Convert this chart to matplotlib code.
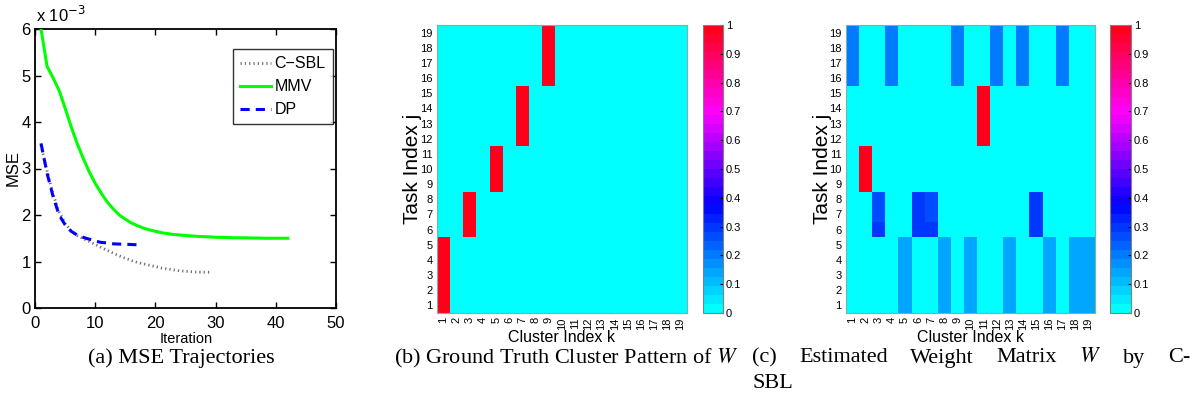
import numpy as np
import matplotlib
matplotlib.use("Agg")
import matplotlib.pyplot as plt
from matplotlib.colors import LinearSegmentedColormap

# ---------------- data ----------------
iters_csbl = list(range(1, 30))
mse_csbl = [3.50, 2.95, 2.45, 2.07, 1.82, 1.66, 1.56, 1.49, 1.43, 1.37, 1.30, 1.24,
            1.18, 1.12, 1.07, 1.02, 0.98, 0.95, 0.92, 0.89, 0.86, 0.84, 0.82, 0.80,
            0.79, 0.78, 0.77, 0.77, 0.77]
iters_mmv = list(range(1, 43))
mse_mmv = [6.00, 5.20, 4.95, 4.68, 4.30, 3.90, 3.54, 3.22, 2.93, 2.68, 2.47, 2.28,
           2.13, 2.00, 1.91, 1.83, 1.77, 1.72, 1.68, 1.65, 1.62, 1.60, 1.58, 1.57,
           1.56, 1.55, 1.54, 1.535, 1.53, 1.52, 1.52, 1.515, 1.51, 1.51, 1.51,
           1.505, 1.505, 1.50, 1.50, 1.50, 1.50, 1.50]
iters_dp = list(range(1, 18))
mse_dp = [3.54, 2.90, 2.40, 2.00, 1.79, 1.65, 1.57, 1.52, 1.48, 1.44, 1.41, 1.40,
          1.38, 1.375, 1.37, 1.365, 1.36]

n_idx = 19
idx_labels = [str(i) for i in range(1, n_idx + 1)]

# ground-truth blocks: (first task, last task, cluster, value)
truth_blocks = [(1, 5, 1, 1.0), (6, 8, 3, 1.0), (9, 11, 5, 1.0),
                (12, 15, 7, 1.0), (16, 19, 9, 1.0)]
# estimated weight blocks: (first task, last task, cluster, value)
est_blocks = [
    (16, 19, 1, 0.19), (16, 19, 4, 0.19), (16, 19, 9, 0.19), (16, 19, 12, 0.19),
    (16, 19, 14, 0.19), (16, 19, 17, 0.19),
    (12, 15, 11, 1.0),
    (9, 11, 2, 1.0),
    (7, 8, 3, 0.25), (6, 6, 3, 0.30),
    (6, 8, 6, 0.31),
    (7, 8, 7, 0.25), (6, 6, 7, 0.30),
    (6, 8, 15, 0.30),
    (1, 5, 5, 0.15), (1, 5, 8, 0.15), (1, 5, 10, 0.15), (1, 5, 13, 0.15),
    (1, 5, 16, 0.15), (1, 5, 18, 0.15), (1, 5, 19, 0.15),
]
cbar_ticks = [0, 0.1, 0.2, 0.3, 0.4, 0.5, 0.6, 0.7, 0.8, 0.9, 1]
cbar_ticklabels = ['0', '0.1', '0.2', '0.3', '0.4', '0.5', '0.6', '0.7', '0.8', '0.9', '1']

plt.rcParams['font.family'] = ['Liberation Sans', 'DejaVu Sans']

W, H = 1192, 413
fig = plt.figure(figsize=(W / 100, H / 100), dpi=100)


def px_axes(left, top, right, bottom):
    return fig.add_axes([left / W, 1 - bottom / H, (right - left) / W, (bottom - top) / H])


def ftext(x, y, s, **kw):
    return fig.text(x / W, 1 - y / H, s, **kw)


# ---------------- (a) MSE ----------------
ax = px_axes(35, 29, 336, 308)
ax.plot(iters_csbl, mse_csbl, color='#707070', lw=2.0, ls=(0, (0.45, 1.1)),
        label='C\u2212SBL', zorder=2)
ax.plot(iters_mmv, mse_mmv, color='#00ff00', lw=2.2, label='MMV', zorder=3)
ax.plot(iters_dp, mse_dp, color='#0000ff', lw=2.2, ls=(0, (3, 2)), label='DP', zorder=4)
ax.set_xlim(0, 50)
ax.set_ylim(0, 6)
ax.set_xticks(range(0, 51, 10))
ax.set_yticks(range(0, 7))
ax.tick_params(direction='in', top=True, right=True, labelsize=12, length=4, width=1)
ax.tick_params(axis='x', pad=6)
ax.tick_params(axis='y', pad=3)
for s in ax.spines.values():
    s.set_linewidth(1.3)
ftext(186, 339, 'Iteration', fontsize=10.5, ha='center', va='center')
ftext(13, 168, 'MSE', fontsize=12, ha='center', va='center', rotation=90)
ftext(36, 15, r'x 10$^{-3}$', fontsize=12, va='center', ha='left')
leg = ax.legend(loc='upper left', bbox_to_anchor=((233 - 35) / 301, 1 - (49 - 29) / 279),
                fontsize=11.5, frameon=True, fancybox=False, borderpad=0.45,
                handlelength=1.9, handletextpad=0.25, labelspacing=0.5, borderaxespad=0)
leg.get_frame().set_edgecolor('black')
leg.get_frame().set_linewidth(1.0)

# ---------------- colormap ----------------
cmap = LinearSegmentedColormap.from_list(
    'cbmp', [(0.0, (0, 1, 1)), (0.37, (0, 0, 1)), (0.70, (1, 0, 1)), (1.0, (1, 0, 0.1))], N=32)


def build(blocks):
    M = np.zeros((n_idx, n_idx))
    for r0, r1, c, v in blocks:
        M[r0 - 1:r1, c - 1] = v
    return M


def heat(left, right, cleft, cright, blocks):
    axh = px_axes(left, 25, right, 313)
    M = build(blocks)
    edges = np.arange(0.5, n_idx + 1.5)
    mesh = axh.pcolormesh(edges, edges, M, cmap=cmap, vmin=0, vmax=1)
    axh.set_xlim(0.5, n_idx + 0.5)
    axh.set_ylim(0.5, n_idx + 0.5)
    axh.set_xticks(range(1, n_idx + 1))
    axh.set_yticks(range(1, n_idx + 1))
    axh.set_xticklabels(idx_labels, rotation=90, fontsize=8)
    axh.set_yticklabels(idx_labels, fontsize=8)
    axh.tick_params(length=0, pad=3)
    for s in axh.spines.values():
        s.set_color('#7fb0b0')
        s.set_linewidth(0.8)
    ftext((left + right) / 2, 337, 'Cluster Index k', fontsize=11.5, ha='center', va='center')
    ftext(left - 24, 169, 'Task Index j', fontsize=15, ha='center', va='center', rotation=90)
    cax = px_axes(cleft, 25, cright, 313)
    cb = fig.colorbar(mesh, cax=cax, ticks=cbar_ticks)
    cb.ax.set_yticklabels(cbar_ticklabels)
    cb.ax.tick_params(labelsize=8, direction='in', length=2.5, width=0.8, pad=2)
    cb.outline.set_edgecolor('#808080')
    cb.outline.set_linewidth(0.8)
    return axh


heat(437, 687, 703, 723, truth_blocks)
heat(846, 1095, 1110, 1131, est_blocks)

# ---------------- captions ----------------
cap_font = dict(family=['Liberation Serif', 'DejaVu Serif'], fontsize=16, math_fontfamily='stix')
cap_y = 358
ftext(181, cap_y, '(a) MSE Trajectories', ha='center', va='center', **cap_font)
ftext(566, cap_y, '(b) Ground Truth Cluster Pattern of $W$', ha='center',
      va='center', **cap_font)

# justified first line of caption (c)
words_c = ['(c)', 'Estimated', 'Weight', 'Matrix', '$W$', 'by', 'C-']
x0, x1 = 752, 1190
texts = [ftext(0, cap_y, w, ha='left', va='center', **cap_font) for w in words_c]
fig.canvas.draw()
r = fig.canvas.get_renderer()
widths = [t.get_window_extent(r).width for t in texts]
gap = (x1 - x0 - sum(widths)) / (len(words_c) - 1)
x = x0
for t, wd in zip(texts, widths):
    t.set_x(x / W)
    x += wd + gap
ftext(x0, 384, 'SBL', ha='left', va='center', **cap_font)

fig.savefig('out.png', dpi=100)
